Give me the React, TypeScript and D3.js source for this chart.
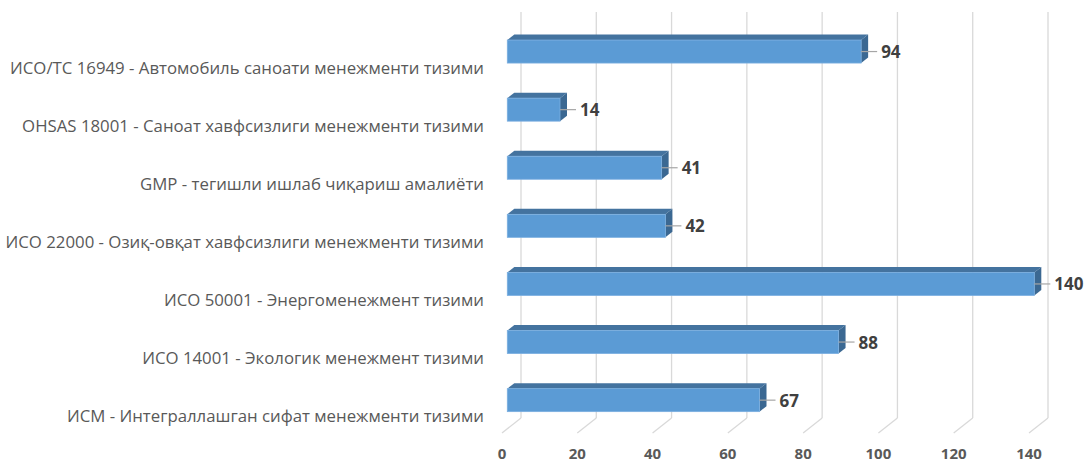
import * as d3 from "d3";

const WIDTH = 1084;
const HEIGHT = 464;

const categories = [
  "ИСО/ТС 16949 - Автомобиль саноати менежменти тизими",
  "OHSAS 18001 - Саноат хавфсизлиги менежменти тизими",
  "GMP - тегишли ишлаб чиқариш амалиёти",
  "ИСО 22000 - Озиқ-овқат хавфсизлиги менежменти тизими",
  "ИСО 50001 - Энергоменежмент тизими",
  "ИСО 14001 - Экологик менежмент тизими",
  "ИСМ - Интеграллашган сифат менежменти тизими",
];
const values = [94, 14, 41, 42, 140, 88, 67];
const ticks = [0, 20, 40, 60, 80, 100, 120, 140];

// 3D projection constants
const FLOOR_X0 = 502; // front floor x for 0
const BACK_X0 = 521; // back wall x for 0
const BAR_X0 = 507.3; // bar front face x for 0
const WALL_TOP = 12;
const WALL_BOTTOM = 418;
const FLOOR_FRONT = 433;
const BAR_DX = 7;
const BAR_DY = -5.5;
const BAR_H = 23;

const FRONT = "#5b9bd5";
const TOP = "#44739f";
const SIDE = "#3b6892";

export default function App() {
  const xScale = d3.scaleLinear().domain([0, 140]).range([0, 527]);
  const yScale = d3
    .scaleBand<string>()
    .domain(categories)
    .range([22.5, 22.5 + 58.1 * categories.length])
    .padding(0);

  const grid = ticks.map((t) => {
    const xb = BACK_X0 + xScale(t);
    const xf = FLOOR_X0 + xScale(t);
    return (
      <g key={t}>
        <line x1={xb} x2={xb} y1={WALL_TOP} y2={WALL_BOTTOM} stroke="#d9d9d9" strokeWidth={1.3} />
        <line x1={xb} x2={xf} y1={WALL_BOTTOM} y2={FLOOR_FRONT} stroke="#d9d9d9" strokeWidth={1.3} />
        <text
          x={xf}
          y={458.5}
          textAnchor="middle"
          fontFamily="Open Sans"
          fontWeight="bold"
          fontSize={15}
          fill="#595959"
        >
          {t}
        </text>
      </g>
    );
  });

  const bars = categories.map((c, i) => {
    const v = values[i];
    const cy = (yScale(c) as number) + yScale.bandwidth() / 2;
    const y0 = cy - BAR_H / 2;
    const y1 = cy + BAR_H / 2;
    const xl = BAR_X0;
    const xr = BAR_X0 + xScale(v);
    const top = `M${xl},${y0} L${xl + BAR_DX},${y0 + BAR_DY} L${xr + BAR_DX},${y0 + BAR_DY} L${xr},${y0} Z`;
    const side = `M${xr},${y0} L${xr + BAR_DX},${y0 + BAR_DY} L${xr + BAR_DX},${y1 + BAR_DY} L${xr},${y1} Z`;
    return (
      <g key={c}>
        <path d={top} fill={TOP} />
        <path d={side} fill={SIDE} />
        <rect x={xl} y={y0} width={xr - xl} height={BAR_H} fill={FRONT} stroke="#7aaee0" strokeWidth={0.8} />
        <line x1={xr} x2={xr + 16} y1={cy} y2={cy} stroke="#a6a6a6" strokeWidth={1.2} />
        <text
          x={xr + 20}
          y={cy + 6.5}
          fontFamily="Open Sans"
          fontWeight="bold"
          fontSize={17}
          fill="#404040"
        >
          {v}
        </text>
        <text
          x={484}
          y={cy + 22}
          textAnchor="end"
          fontFamily="Open Sans"
          fontSize={16.8}
          fill="#595959"
        >
          {c}
        </text>
      </g>
    );
  });

  return (
    <svg
      width={WIDTH}
      height={HEIGHT}
      style={{ position: "absolute", left: 0, top: 0, background: "#fff" }}
    >
      {grid}
      {bars}
    </svg>
  );
}
